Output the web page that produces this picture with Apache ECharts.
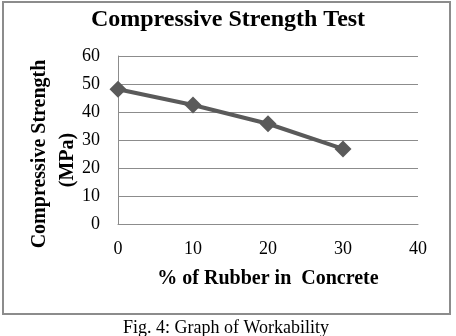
<!DOCTYPE html>
<html>
<head>
<meta charset="utf-8">
<script src="https://cdn.jsdelivr.net/npm/echarts@6/dist/echarts.min.js"></script>
<style>
  html, body { margin: 0; padding: 0; background: #fff; }
  #main { width: 456px; height: 336px; }
</style>
</head>
<body>
<div id="main"></div>
<script>
  // data
  var rubberPct = [0, 10, 20, 30];
  var strength = [48.1, 42.5, 35.8, 26.8];
  var xTicks = [0, 10, 20, 30, 40];
  var yTicks = [0, 10, 20, 30, 40, 50, 60];

  var serif = "'Liberation Serif', 'Times New Roman', serif";
  var points = rubberPct.map(function (x, i) { return [x, strength[i]]; });

  var myChart = echarts.init(document.getElementById('main'));
  var option = {
    backgroundColor: '#fff',
    animation: false,
    title: {
      text: 'Compressive Strength Test',
      left: 'center',
      top: 3,
      textStyle: { fontFamily: serif, fontWeight: 'bold', fontSize: 24, color: '#000' }
    },
    grid: { left: 118, right: 38, top: 56, bottom: 112 },
    xAxis: {
      type: 'value',
      min: xTicks[0],
      max: xTicks[xTicks.length - 1],
      interval: 10,
      name: '% of Rubber in  Concrete',
      nameLocation: 'middle',
      nameGap: 45,
      nameTextStyle: { fontFamily: serif, fontWeight: 'bold', fontSize: 20, color: '#000' },
      axisLine: { show: true, lineStyle: { color: '#8c8c8c', width: 1 } },
      axisTick: { show: false },
      splitLine: { show: false },
      axisLabel: { fontFamily: serif, fontSize: 18, color: '#000', margin: 16 }
    },
    yAxis: {
      type: 'value',
      min: yTicks[0],
      max: yTicks[yTicks.length - 1],
      interval: 10,
      axisLine: { show: true, lineStyle: { color: '#8c8c8c', width: 1 } },
      axisTick: { show: false },
      splitLine: { show: true, lineStyle: { color: '#8c8c8c', width: 1 } },
      axisLabel: { fontFamily: serif, fontSize: 18, color: '#000', margin: 18 }
    },
    graphic: [
      {
        type: 'rect',
        shape: { x: 3, y: 2, width: 447, height: 312 },
        style: { fill: 'none', stroke: '#8c8c8c', lineWidth: 2 },
        silent: true
      },
      {
        type: 'text',
        x: 40, y: 154, rotation: Math.PI / 2,
        style: {
          text: 'Compressive Strength', fontFamily: serif, fontWeight: 'bold',
          fontSize: 20, fill: '#000', align: 'center', verticalAlign: 'middle'
        }
      },
      {
        type: 'text',
        x: 68, y: 160, rotation: Math.PI / 2,
        style: {
          text: '(MPa)', fontFamily: serif, fontWeight: 'bold',
          fontSize: 20, fill: '#000', align: 'center', verticalAlign: 'middle'
        }
      },
      {
        type: 'text',
        x: 226, y: 328,
        style: {
          text: 'Fig. 4: Graph of Workability', fontFamily: serif,
          fontSize: 18, fill: '#000', align: 'center', verticalAlign: 'middle'
        }
      }
    ],
    series: [{
      type: 'line',
      data: points,
      symbol: 'diamond',
      symbolSize: 17,
      lineStyle: { color: '#5a5a5a', width: 4 },
      itemStyle: { color: '#5a5a5a' }
    }]
  };
  myChart.setOption(option);
</script>
</body>
</html>
